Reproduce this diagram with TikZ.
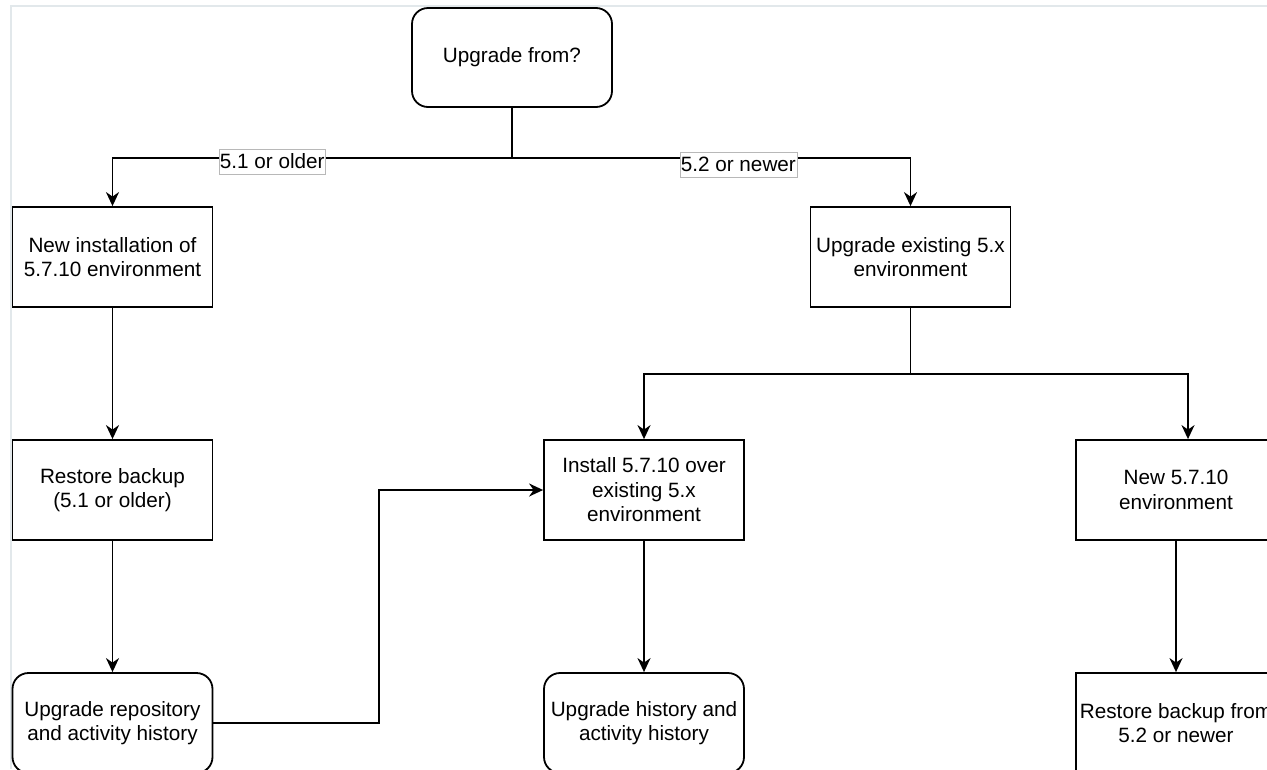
\documentclass[tikz,border=0pt]{standalone}
\usepackage{fontspec}
\setmainfont{Liberation Sans}
\usetikzlibrary{arrows.meta}

\definecolor{framegrey}{HTML}{E2E8EB}
\definecolor{labelgrey}{HTML}{B8B8B8}

\tikzset{
  stepbox/.style={draw, line width=1.8pt, minimum width=200pt, minimum height=100pt,
    align=center, inner sep=0pt, font=\fontsize{20.7}{24.5}\selectfont},
  roundbox/.style={stepbox, rounded corners=16pt},
  flow/.style={line width=1.8pt, -{Stealth[length=14pt, width=13pt, inset=4.5pt]}},
  link/.style={line width=1.8pt},
  choice/.style={draw=labelgrey, line width=0.6pt, fill=white, inner xsep=1pt,
    inner ysep=0pt, minimum height=25pt, font=\fontsize{20.7}{24.5}\selectfont}
}

\begin{document}
\begin{tikzpicture}[x=1pt, y=-1pt]

\useasboundingbox (0,0) rectangle (1267,769);
\clip (0,0) rectangle (1267,769);

% page frame
\draw[framegrey, line width=2pt] (11,769) -- (11,6) -- (1267,6);

% decision
\node[roundbox, minimum height=99pt] (start) at (512,57.5) {Upgrade from?};

% first level
\node[stepbox] (newinst) at (112.5,257) {New installation of\\5.7.10 environment};
\node[stepbox] (upex) at (910.5,257) {Upgrade existing 5.x\\environment};

% second level
\node[stepbox] (restore) at (112.5,490) {Restore backup\\(5.1 or older)};
\node[stepbox] (install) at (644,490) {Install 5.7.10 over\\existing 5.x\\environment};
\node[stepbox] (newenv) at (1176,490) {New 5.7.10\\environment};

% last level
\node[roundbox] (upgrepo) at (112.5,723) {Upgrade repository\\and activity history};
\node[roundbox] (upghist) at (644,723) {Upgrade history and\\activity history};
\node[stepbox] (restore52) at (1176,723) {Restore backup from\\5.2 or newer};

% connectors
\draw[link] (start.south) -- ++(0,50) coordinate (fork);
\draw[flow] (fork) -| (newinst.north) node[choice, pos=0.3, yshift=-3.5pt] {5.1 or older};
\draw[flow] (fork) -| (upex.north) node[choice, pos=0.284, yshift=-6.5pt] {5.2 or newer};

\draw[flow] (newinst) -- (restore);
\draw[flow] (restore) -- (upgrepo);

\draw[link] (upex.south) -- ++(0,66) coordinate (split);
\draw[flow] (split) -| (install.north);
\draw[flow] (split) -| ([xshift=12pt]newenv.north);

\draw[flow] (install) -- (upghist);
\draw[flow] (newenv) -- (restore52);

\draw[flow] (upgrepo.east) -- ++(165.5,0) |- (install.west);

\end{tikzpicture}
\end{document}
